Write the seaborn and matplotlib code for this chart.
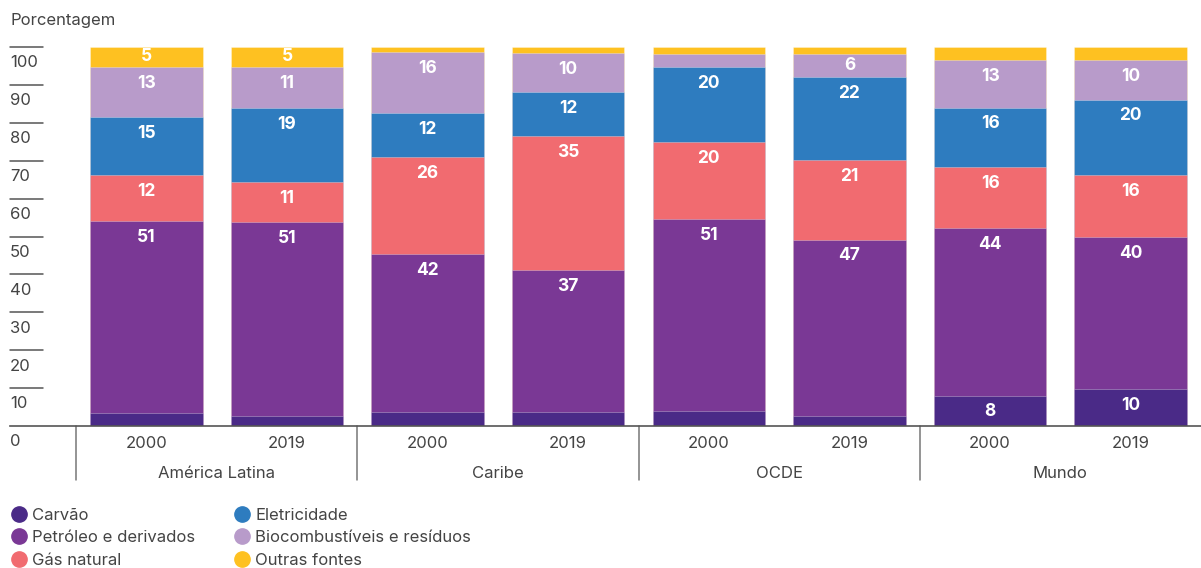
import matplotlib
matplotlib.use("Agg")
import matplotlib.pyplot as plt
import matplotlib.transforms as mtransforms
from matplotlib.lines import Line2D
import seaborn as sns
import pandas as pd
import numpy as np

groups = ["América Latina", "Caribe", "OCDE", "Mundo"]
years = ["2000", "2019"]
series = ["Carvão", "Petróleo e derivados", "Gás natural", "Eletricidade",
          "Biocombustíveis e resíduos", "Outras fontes"]
carvao = [3.4, 2.6, 3.7, 3.7, 4.0, 2.6, 7.9, 9.8]
petroleo = [50.7, 51.2, 41.7, 37.4, 50.6, 46.6, 44.3, 40.1]
gas = [12.0, 10.6, 25.6, 35.3, 20.3, 21.0, 16.2, 16.4]
eletricidade = [15.3, 19.4, 11.6, 11.7, 19.8, 21.9, 15.6, 19.8]
bio = [13.4, 11.0, 16.1, 10.3, 3.5, 6.1, 12.6, 10.4]
outras = [5.2, 5.2, 1.3, 1.6, 1.8, 1.8, 3.4, 3.5]
colors = ["#4a2a87", "#7a3895", "#f16b70", "#2e7cbf", "#b89bca", "#fec121"]

values = [carvao, petroleo, gas, eletricidade, bio, outras]
keys = [f"{g}\n{y}" for g in groups for y in years]

sns.set_theme(style="white")
plt.rcParams["font.family"] = ["Inter", "DejaVu Sans"]
txt = "#444444"
fs = 12

fig = plt.figure(figsize=(12.01, 5.68), dpi=100)
ax = fig.add_axes([10/1201, 142/568, 1191/1201, 379/568])

cum = np.cumsum(np.array(values), axis=0)
for i in range(len(series) - 1, -1, -1):
    df = pd.DataFrame({"key": keys, "val": cum[i]})
    sns.barplot(data=df, x="key", y="val", order=keys, color=colors[i],
                width=0.8, saturation=1, edgecolor=(1, 1, 1, 0.35),
                linewidth=0.6, ax=ax)

# segment labels
for i, s in enumerate(series):
    for j in range(len(keys)):
        v = values[i][j]
        if v >= 4.5:
            top = cum[i][j]
            ax.text(j, top - min(4.3, v / 2), f"{v:.0f}", ha="center", va="center",
                    color="white", fontsize=12.5, fontweight="bold")

ax.set_xlim(-0.97, 7.5)
ax.set_ylim(0, 100)
ax.set_xticks([])
ax.set_yticks([])
ax.set_xlabel("")
ax.set_ylabel("")
for sp in ["top", "right", "left"]:
    ax.spines[sp].set_visible(False)
ax.spines["bottom"].set_color("#555555")
ax.spines["bottom"].set_linewidth(1.2)

# y ticks as short lines with labels below
trans = mtransforms.blended_transform_factory(ax.transAxes, ax.transData)
off = mtransforms.offset_copy(trans, fig=fig, x=0, y=-6, units="points")
for v in range(0, 101, 10):
    if v > 0:
        ax.plot([0, 33/1191], [v, v], transform=trans, color="#555555", lw=1.1,
                clip_on=False)
    ax.text(0, v, str(v), transform=off, ha="left", va="top", fontsize=fs, color=txt)

# x labels
xtr = mtransforms.blended_transform_factory(ax.transData, ax.transAxes)
for j in range(len(keys)):
    ax.text(j, -18/379, years[j % 2], transform=xtr, ha="center", va="center",
            fontsize=fs, color=txt)
for g_i, g in enumerate(groups):
    ax.text(2 * g_i + 0.5, -47/379, g, transform=xtr, ha="center", va="center",
            fontsize=fs, color=txt)
    ax.plot([2 * g_i - 0.5] * 2, [0, -54/379], transform=xtr, color="#777777",
            lw=1.1, clip_on=False)

fig.text(10/1201, 1 - 20/568, "Porcentagem", ha="left", va="center",
         fontsize=fs, color=txt)

handles = [Line2D([0], [0], marker="o", linestyle="", markersize=11,
                  markerfacecolor=c, markeredgecolor=c) for c in colors]
fig.legend(handles, series, loc="upper left", bbox_to_anchor=(2/1201, 1 - 501/568),
           ncol=2, frameon=False, fontsize=fs, labelcolor=txt, handletextpad=0.2,
           handlelength=1.2, labelspacing=0.45, columnspacing=2.2, borderaxespad=0)

fig.savefig("out.png", dpi=100)
